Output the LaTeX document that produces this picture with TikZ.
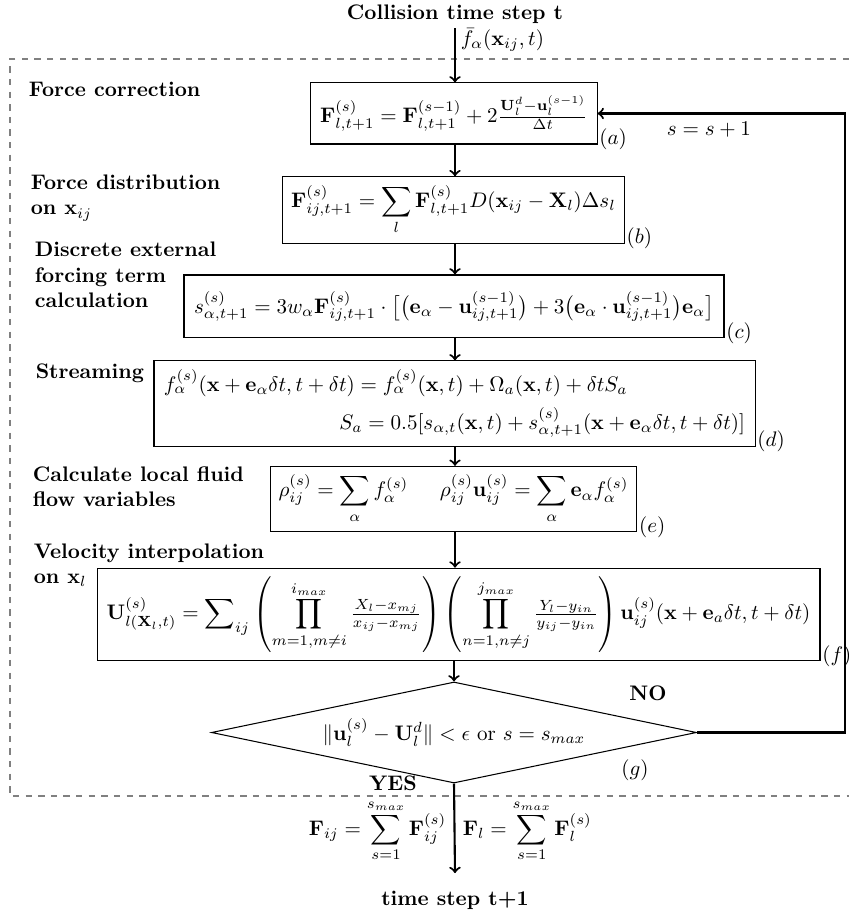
\documentclass[tikz,border=0pt]{standalone}
\usepackage{amsmath}
\usetikzlibrary{shapes.geometric}

\tikzset{every picture/.style={line width=0.75pt}}
\tikzset{
  box/.style={draw, line width=0.5pt, inner sep=4pt},
  decision/.style={draw, diamond, aspect=4.8, inner sep=0pt, line width=0.5pt,
    minimum width=230.4pt, minimum height=48pt},
  flow/.style={->, line width=1pt},
  tag/.style={inner sep=0.5pt, anchor=base west},
  lbl/.style={font=\bfseries, align=left, anchor=west, inner sep=0pt},
  frame/.style={dashed, gray, line width=0.5pt}
}

\begin{document}
\begin{tikzpicture}[x=0.475pt, y=-0.475pt]
  \useasboundingbox (0,0) rectangle (849,914);
  \coordinate (spine) at (455,0);
  \coordinate (back) at (845,0);

  % Cadre
  \draw[frame] (849,59) -- (10,59) -- (10,796) -- (849,796);

  % Etapes
  \node[font=\bfseries, inner sep=2pt] (start) at (455,14) {Collision time step t};
  \node[box, minimum width=135.9pt, minimum height=29pt] (a) at (454,113.5)
    {$\mathbf{F}^{(s)}_{l,t+1}=\mathbf{F}^{(s-1)}_{l,t+1}+2\frac{\mathbf{U}^d_l-\mathbf{u}^{(s-1)}_l}{\Delta t}$};
  \node[box, minimum width=159.1pt, minimum height=28.5pt] (b) at (453.5,210)
    {$\displaystyle\mathbf{F}^{(s)}_{ij,t+1}=\sum_l\mathbf{F}^{(s)}_{l,t+1}D(\mathbf{x}_{ij}-\mathbf{X}_l)\Delta s_l$};
  \node[box, minimum width=256.5pt, minimum height=29.9pt] (c) at (454,306.5)
    {$s^{(s)}_{\alpha,t+1}=3w_\alpha\mathbf{F}^{(s)}_{ij,t+1}\cdot\big[\big(\mathbf{e}_\alpha-\mathbf{u}^{(s-1)}_{ij,t+1}\big)+3\big(\mathbf{e}_\alpha\cdot\mathbf{u}^{(s-1)}_{ij,t+1}\big)\mathbf{e}_\alpha\big]$};
  \node[box, minimum width=285.5pt, minimum height=39.4pt, text width=276pt] (d) at (454.5,403.5)
    {\makebox[276pt][l]{$f^{(s)}_\alpha(\mathbf{x}+\mathbf{e}_\alpha\delta t,t+\delta t)=f^{(s)}_\alpha(\mathbf{x},t)+\Omega_a(\mathbf{x},t)+\delta tS_a$}\\[4pt]
     \makebox[276pt][r]{$S_a=0.5[s_{\alpha,t}(\mathbf{x},t)+s^{(s)}_{\alpha,t+1}(\mathbf{x}+\mathbf{e}_\alpha\delta t,t+\delta t)]$}};
  \node[box, minimum width=172.4pt, minimum height=29.5pt] (e) at (453.5,499)
    {$\displaystyle\rho^{(s)}_{ij}=\sum_\alpha f^{(s)}_\alpha\hspace{15pt}\rho^{(s)}_{ij}\mathbf{u}^{(s)}_{ij}=\sum_\alpha\mathbf{e}_\alpha f^{(s)}_\alpha$};
  \node[box, minimum width=343.4pt, minimum height=37.5pt] (f) at (458.5,614.5)
    {$\displaystyle\mathbf{U}^{(s)}_{l(\mathbf{X}_l,t)}=\sum\nolimits_{ij}\left(\prod_{m=1,m\neq i}^{i_{max}}\tfrac{X_l-x_{mj}}{x_{ij}-x_{mj}}\right)\left(\prod_{n=1,n\neq j}^{j_{max}}\tfrac{Y_l-y_{in}}{y_{ij}-y_{in}}\right)\mathbf{u}^{(s)}_{ij}(\mathbf{x}+\mathbf{e}_a\delta t,t+\delta t)$};
  \node[decision] (g) at (454,732.5)
    {$\|\mathbf{u}^{(s)}_l-\mathbf{U}^d_l\|<\epsilon$ or $s=s_{max}$};
  \node[font=\bfseries, inner xsep=2pt, inner ysep=8pt] (stop) at (455,900) {time step t+1};

  % Etiquettes
  \foreach \n in {a,b,c,d,e,f}
    \node[tag] at (\n.south east) {$(\n)$};
  \node (gtag) at (635,770) {$(g)$};
  \node[font=\bfseries] (no) at (648,693) {NO};
  \node[font=\bfseries, inner sep=1pt] (yes) at (393,783) {YES};
  \node (incr) at (709,130) {$s=s+1$};
  \node[anchor=west, inner sep=0pt] (fin) at (460,40) {$\bar{f}_\alpha(\mathbf{x}_{ij},t)$};
  \node[anchor=east, inner sep=0pt] (fij) at (447,831)
    {$\displaystyle\mathbf{F}_{ij}=\sum_{s=1}^{s_{max}}\mathbf{F}^{(s)}_{ij}$};
  \node[anchor=west, inner sep=0pt] (fl) at (462,831)
    {$\displaystyle\mathbf{F}_l=\sum_{s=1}^{s_{max}}\mathbf{F}^{(s)}_l$};

  \node[lbl] at (28,89) {Force correction};
  \node[lbl] at (30,198) {Force distribution\\on $\mathbf{x}_{ij}$};
  \node[lbl] at (34,275) {Discrete external\\forcing term\\calculation};
  \node[lbl] at (35,373) {Streaming};
  \node[lbl] at (32,487) {Calculate local fluid\\flow variables};
  \node[lbl] at (33,565) {Velocity interpolation\\on $\mathbf{x}_l$};

  % Fleches
  \draw[flow] (start.south -| spine) -- (a.north -| spine);
  \foreach \u/\v in {a/b, b/c, c/d, d/e, e/f}
    \draw[flow] (\u.south -| spine) -- (\v.north -| spine);
  \draw[flow] (f.south -| g.north) -- (g.north);
  \draw[flow] (g.east) -- (g.east -| back) |- (a.east);
  \draw[flow] (g.south) -- (stop.north);
\end{tikzpicture}
\end{document}
